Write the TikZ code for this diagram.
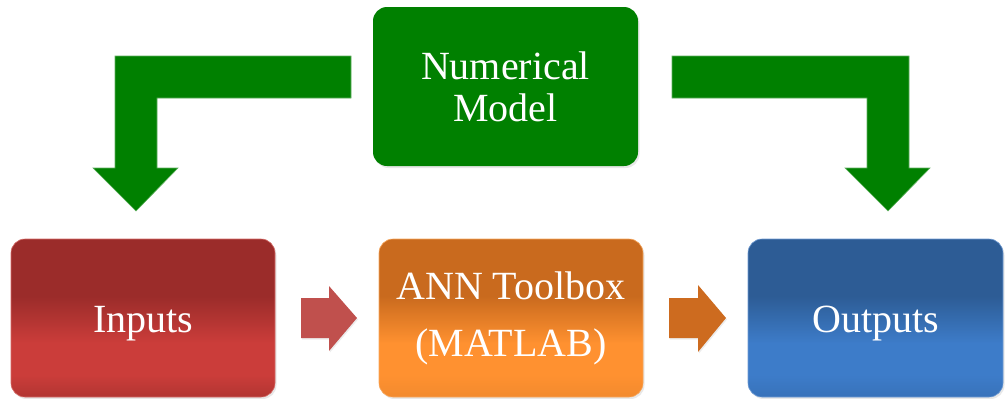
\documentclass[tikz,border=0pt]{standalone}
\usepackage{fontspec}
\setmainfont{Liberation Serif}
\usetikzlibrary{shadows}

% palette
\definecolor{modelgreen}{HTML}{008000}
\definecolor{modeledge}{HTML}{5FAF5F}
\definecolor{reddark}{HTML}{9B2C2A}
\definecolor{redlight}{HTML}{CB3D3A}
\definecolor{redbot}{HTML}{B23532}
\definecolor{rededge}{HTML}{D46A66}
\definecolor{orgdark}{HTML}{C96A1E}
\definecolor{orglight}{HTML}{FF9130}
\definecolor{orgbot}{HTML}{F28A2E}
\definecolor{orgedge}{HTML}{F6A65C}
\definecolor{bluedark}{HTML}{2D5C95}
\definecolor{bluelight}{HTML}{3D7CC9}
\definecolor{bluebot}{HTML}{3872BA}
\definecolor{blueedge}{HTML}{6E9AD2}
\definecolor{redarrow}{HTML}{C0504D}
\definecolor{orgarrow}{HTML}{CD6B1F}

% vertical gradients: the node spans 25bp (bottom) to 75bp (top)
\pgfdeclareverticalshading{redgrad}{100bp}{color(0bp)=(redbot); color(25bp)=(redbot); color(32bp)=(redlight); color(42bp)=(redlight); color(57bp)=(reddark); color(100bp)=(reddark)}
\pgfdeclareverticalshading{orggrad}{100bp}{color(0bp)=(orgbot); color(25bp)=(orgbot); color(32bp)=(orglight); color(42bp)=(orglight); color(57bp)=(orgdark); color(100bp)=(orgdark)}
\pgfdeclareverticalshading{bluegrad}{100bp}{color(0bp)=(bluebot); color(25bp)=(bluebot); color(32bp)=(bluelight); color(42bp)=(bluelight); color(57bp)=(bluedark); color(100bp)=(bluedark)}

\begin{document}
\begin{tikzpicture}[x=1pt, y=-1pt,
  box/.style={rounded corners=14pt, minimum width=264pt, minimum height=158pt,
    inner sep=0pt, align=center, text=white,
    font=\fontsize{40}{42}\selectfont,
    drop shadow={shadow xshift=1.5pt, shadow yshift=-2pt, opacity=0.18}},
  oneline/.style={text height=28pt, text depth=0pt},
  bigarrow/.style={fill=modelgreen, draw=modeledge, line width=0.6pt},
  smallarrow/.style={drop shadow={shadow xshift=1pt, shadow yshift=-1.5pt, opacity=0.15}}]

\useasboundingbox (0,0) rectangle (1005,399);

% top block
\node[box, fill=modelgreen, minimum width=265pt, minimum height=159pt]
  (nm) at (505.5,86.5) {Numerical\\Model};

% bottom row
\node[box, oneline, shading=redgrad, draw=rededge, line width=0.6pt]
  (inp) at (143,318) {Inputs};
\node[box, shading=orggrad, draw=orgedge, line width=0.6pt,
  font=\fontsize{40}{57}\selectfont]
  (ann) at (511,318) {ANN Toolbox\\(MATLAB)};
\node[box, oneline, shading=bluegrad, draw=blueedge, line width=0.6pt,
  minimum width=255pt]
  (out) at (875.5,318) {Outputs};

% bent block arrows from the model down to inputs and outputs
\draw[bigarrow] (351,56) -- (115,56) -- (115,168) -- (93,168) -- (136,211)
  -- (178,168) -- (157,168) -- (157,98) -- (351,98) -- cycle;
\draw[bigarrow] (672,56) -- (909,56) -- (909,168) -- (930,168) -- (888,211)
  -- (845,168) -- (867,168) -- (867,98) -- (672,98) -- cycle;

% short block arrows along the bottom row
\fill[redarrow, smallarrow] (301,298) -- (329,298) -- (329,286) -- (357,318)
  -- (329,351) -- (329,338) -- (301,338) -- cycle;
\fill[orgarrow, smallarrow] (669,298) -- (698,298) -- (698,285) -- (726,318)
  -- (698,352) -- (698,338) -- (669,338) -- cycle;
\end{tikzpicture}
\end{document}
